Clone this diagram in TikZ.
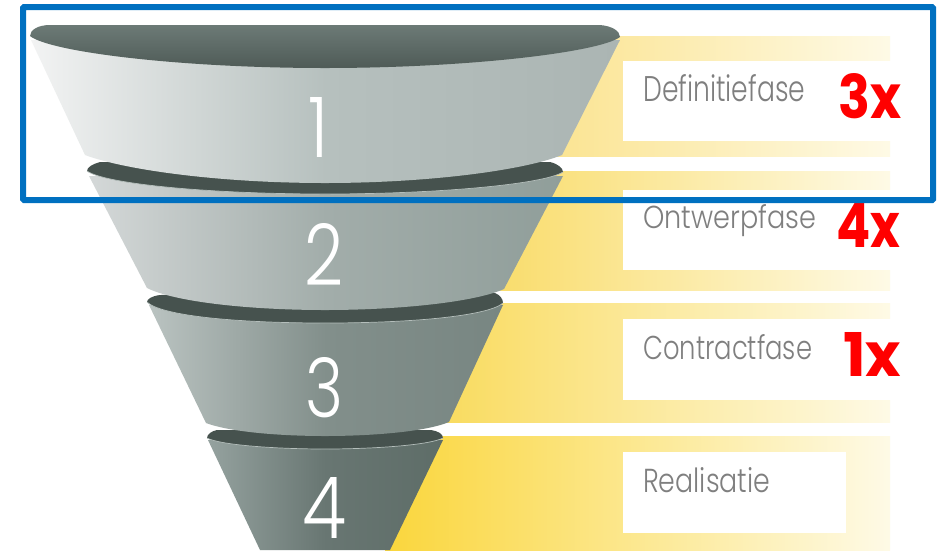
\documentclass[tikz,border=0pt]{standalone}
\usepackage{fontspec}
\setmainfont{Poppins}
\newfontfamily\lightf{Poppins Light}
\definecolor{blueframe}{HTML}{0070C0}
\definecolor{capa}{HTML}{6C7A76}
\definecolor{capb}{HTML}{4F5B57}
\definecolor{capdark}{HTML}{46524E}
\definecolor{rimline}{HTML}{B4BEBB}
\definecolor{labelgrey}{HTML}{7F7F7F}
\definecolor{bandend}{HTML}{FEFAE6}
\definecolor{bandone}{HTML}{FBE38E}
\definecolor{bandtwo}{HTML}{F9DC6A}
\definecolor{bandthree}{HTML}{F9DB5E}
\definecolor{bandfour}{HTML}{FAD63C}
\definecolor{sa}{HTML}{F2F3F3}\definecolor{sb}{HTML}{B6C0BE}\definecolor{sc}{HTML}{ABB5B3}
\definecolor{ta}{HTML}{D4D8D8}\definecolor{tb}{HTML}{A2ADAA}\definecolor{tc}{HTML}{909E9A}
\definecolor{ua}{HTML}{BAC3C1}\definecolor{ub}{HTML}{828F8B}\definecolor{uc}{HTML}{788682}
\definecolor{va}{HTML}{95A29F}\definecolor{vb}{HTML}{687672}\definecolor{vc}{HTML}{5E6D68}
\tikzset{
  capshade/.style={top color=capa,bottom color=capb,draw=none},
  capflat/.style={fill=capdark,draw=none},
  rim/.style={draw=rimline,line width=.7pt},
  whitebox/.style={fill=white,draw=none},
  bandshade/.style={left color=#1,right color=bandend,draw=none},
  numtext/.style={text=white,inner sep=0pt,anchor=base,font=\lightf},
  labeltext/.style={text=labelgrey,inner sep=0pt,anchor=base west,font=\lightf},
  redtext/.style={text=red,inner sep=0pt,anchor=base west,font=\bfseries}
}
\newcommand{\fitbox}[3]{\resizebox{#1pt}{#2pt}{#3}}
\begin{document}
\begin{tikzpicture}[x=1pt,y=-1pt]
\useasboundingbox (0,0) rectangle (937,550);
\fill[white] (0,0) rectangle (937,550);
% bands
\shade[bandshade=bandone] (540,36) rectangle (890,156);
\shade[bandshade=bandtwo] (490,171) rectangle (890,290);
\shade[bandshade=bandthree] (440,303) rectangle (890,422);
\shade[bandshade=bandfour] (385,436) rectangle (890,550);
% white panels
\fill[whitebox] (623,61) rectangle (895,141);
\fill[whitebox] (623,190) rectangle (895,270);
\fill[whitebox] (623,319) rectangle (895,400);
\fill[whitebox] (623,452) rectangle (846,533);
% funnel segment 4
\shade[left color=va,right color=vc,middle color=vb] (208,440) -- (260,550) -- (390,550) -- (443,440) -- cycle;
\fill[capflat] (207,438) .. controls (207,434) and (212,431) .. (217,430) -- (431,430)
  .. controls (438,431) and (443,434) .. (443,438)
  .. controls (430,445) and (375,449) .. (325,449) .. controls (275,449) and (220,445) .. (207,438) -- cycle;
\draw[rim] (207,438) .. controls (220,445) and (275,449) .. (325,449) .. controls (375,449) and (430,445) .. (443,438);
% funnel segment 3
\shade[left color=ua,right color=uc,middle color=ub] (149,305) -- (206,423)
  .. controls (230,432) and (280,436) .. (325,436) .. controls (370,436) and (425,432) .. (449,422) -- (503,305) -- cycle;
\fill[capflat] (147,302) .. controls (147,299) and (152,296) .. (160,295) -- (495,293)
  .. controls (500,295) and (503,299) .. (503,303)
  .. controls (490,315) and (420,323) .. (325,323) .. controls (230,323) and (160,315) .. (147,302) -- cycle;
\draw[rim] (147,302) .. controls (160,315) and (230,323) .. (325,323) .. controls (420,323) and (490,315) .. (503,303);
% funnel segment 2
\shade[left color=ta,right color=tc,middle color=tb] (89,176) -- (147,288)
  .. controls (175,302) and (250,310) .. (325,310) .. controls (400,310) and (475,302) .. (504,289) -- (563,176) -- cycle;
\fill[capflat] (87,171) .. controls (87,167) and (93,164) .. (100,162) -- (550,162)
  .. controls (558,164) and (563,168) .. (563,172)
  .. controls (545,184) and (440,194) .. (325,194) .. controls (210,194) and (105,184) .. (87,171) -- cycle;
\draw[rim] (87,171) .. controls (105,184) and (210,194) .. (325,194) .. controls (440,194) and (545,184) .. (563,172);
% funnel segment 1
\shade[left color=sa,right color=sc,middle color=sb] (31,40) -- (85,155)
  .. controls (125,170) and (220,183) .. (325,183) .. controls (430,183) and (525,170) .. (562,155) -- (620,40) -- cycle;
\shade[capshade] (30,36) .. controls (30,30) and (38,25) .. (50,25) -- (600,25)
  .. controls (612,26) and (620,31) .. (620,37)
  .. controls (600,52) and (470,68) .. (325,68) .. controls (180,68) and (50,52) .. (30,36) -- cycle;
% numerals
\node[numtext] (n1) at (318,157) {\fitbox{20}{60}{1}};
\node[numtext] (n2) at (324,285) {\fitbox{39}{62}{2}};
\node[numtext] (n3) at (325,417) {\fitbox{38}{60}{3}};
\node[numtext] (n4) at (325,538) {\fitbox{44}{61}{4}};
% phase labels
\node[labeltext] (l1) at (643,101) {\fitbox{162}{27}{Definitiefase}};
\node[labeltext] (l2) at (643,228) {\fitbox{173}{24}{Ontwerpfase}};
\node[labeltext] (l3) at (643,359) {\fitbox{169}{25}{Contractfase}};
\node[labeltext] (l4) at (643,492) {\fitbox{127}{25}{Realisatie}};
% red counts
\node[redtext] (r1) at (838,118) {\fitbox{63}{45}{3x}};
\node[redtext] (r2) at (836,247) {\fitbox{64}{44}{4x}};
\node[redtext] (r3) at (843,376) {\fitbox{58}{44}{1x}};
% blue frame
\draw[blueframe,line width=6pt,rounded corners=1pt] (23,7) rectangle (933,200);
\end{tikzpicture}
\end{document}
